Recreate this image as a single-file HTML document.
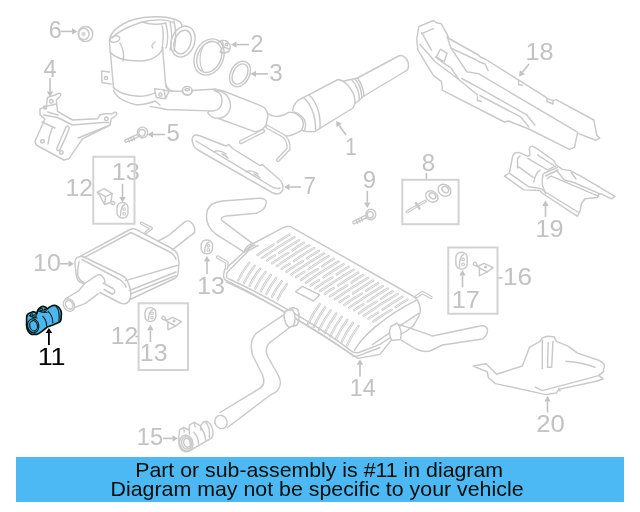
<!DOCTYPE html>
<html><head><meta charset="utf-8"><style>
html,body{margin:0;padding:0;background:#fff;width:640px;height:512px;overflow:hidden}
svg{position:absolute;left:0;top:0;will-change:transform}
text{font-family:"Liberation Sans",sans-serif}
.banner{position:absolute;left:16px;top:457px;width:608px;height:45px;background:#4db9f4}
.l{position:absolute;left:0;width:640px;text-align:center;font-family:"Liberation Sans",sans-serif;color:#0a1a10;white-space:nowrap}
</style></head><body>
<svg width="640" height="512" viewBox="0 0 640 512">
<g fill="none" stroke="#c9c9c9" stroke-width="1.45" stroke-linejoin="round" stroke-linecap="round">
<!-- nut 6 -->
<ellipse cx="85.5" cy="34" rx="7.3" ry="7.6"/>
<ellipse cx="83.8" cy="34" rx="5.2" ry="5.8"/>
<circle cx="83.5" cy="34" r="2.2" fill="#d8d8d8" stroke="none"/>
<!-- bracket 4 -->
<path d="M40,108.8 L40,115 L45,118.8 L35,141.3 L36.3,145 L63.8,160 L68.8,158.8 L82.5,138.8 L110,125 L111.3,118.8 L115.5,116 C118,114 116.5,111.5 114,112.5 L112.5,113.8 L105,113.8 L100,115 L97.5,118.8 L72.5,120 L57.5,111.3 L56.3,100 L59.5,97 C62,95 60.5,92.5 58,93.5 L55,95 L47.5,97.5 L46.3,106.3 Z"/>
<path d="M43.8,115 L57.5,117.5 L72.5,125 L102.5,122.5 L109,122.5"/>
<path d="M47.5,112 L58,115 M46.3,106.3 L56.5,104"/>
<path d="M52.5,127.5 C50,133 48.5,139 48,144"/>
<path d="M66,127 C63,134 60,141 57,148 C56,150.5 58.5,151.5 60,149.5 C63,143 66.5,136 69,129 C70,126.5 67,125 66,127 Z"/>
<path d="M78,138 L108,126"/>
<path d="M42,122 L55,128"/>
<circle cx="51.3" cy="101.3" r="1.8"/>
<circle cx="45" cy="107.5" r="1.6" fill="#d0d0d0"/>
<circle cx="42.5" cy="141.3" r="1.8"/>
<circle cx="61.3" cy="152.5" r="1.8"/>
<circle cx="106.3" cy="118.8" r="1.8"/>
<!-- bolt 5 -->
<path d="M126,141 L138,135.5" stroke-width="3.8"/>
<path d="M126,141 L138,135.5" stroke="#fff" stroke-width="1.2"/>
<path d="M128,138.5 L129.5,142 M130.5,137.3 L132,141 M133,136.2 L134.5,139.8"/>
<ellipse cx="142.5" cy="132.5" rx="5.2" ry="5.4" fill="#fff"/>
<ellipse cx="142" cy="132.8" rx="3.2" ry="3.4"/>
<!-- cat converter (DPF) -->
<path d="M109.4,41 C110,33 116,27 128,21.5 C140,17 160,15 174,19 C180,21 182,24 182,26"/>
<path d="M109.4,41 L113.5,88"/>
<path d="M110,52 C115,58 125,61 140,61 C152,61 160,55 163,48"/>
<path d="M162.5,47 L165.6,84 C167,88 169,90 172,91.2"/>
<path d="M112,38 C118,31 130,26 142,22 C155,19 168,19 174,23"/>
<ellipse cx="114.8" cy="39" rx="5" ry="3" transform="rotate(-15 114.8 39)"/>
<path d="M120,43 C124,50 124,57 123,61"/>
<path d="M142,22 C148,24 158,25 166,23"/>
<path d="M155,42 C152,44 151,47 153,48"/>
<path d="M113.5,87.5 C117,92 128,96 138.7,96.3 C146,96.5 151,94.5 155.1,92.8"/>
<path d="M113.5,90.5 C116,97 125,102 135.2,104.5 C143,105.5 150,103 155.1,101 L160,105"/>
<!-- tabs -->
<path d="M109.4,72 L101.6,71 L102,82.5 L111,84"/>
<circle cx="106" cy="78" r="1.6"/>
<path d="M154.5,88.7 L163.9,89.9 L165.6,98.7 L156.3,97.5 Z" fill="#fff"/>
<path d="M163.9,89.9 L169,91.5 L165.6,98.7"/>
<circle cx="160.4" cy="94.6" r="1.6"/>
<!-- elbow inlet -->
<path d="M162,26 C164,30 163,44 162,48"/>
<path d="M166,24 C168,32 168,42 166,48 M170,22 C172,30 172,42 170,50 M174,21 C176,30 176,42 174,51"/>
<ellipse cx="183" cy="41.5" rx="11.5" ry="15.8" transform="rotate(20 183 41.5)"/>
<ellipse cx="182.6" cy="42" rx="8.2" ry="12.2" transform="rotate(20 182.6 42)"/>
<!-- clamp 2 -->
<ellipse cx="209" cy="57" rx="14.2" ry="18.8" transform="rotate(25 209 57)"/>
<ellipse cx="209.3" cy="57" rx="11.6" ry="16.2" transform="rotate(25 209.3 57)"/>
<path d="M203,71 C199,65 199,53 203.5,46 C206,42.5 209,41 212,41" stroke-width="1.2"/>
<path d="M218.3,42 L222,40.5 C225,40 227,41 228,42.5 L230,44.5 C230.5,47 230,50 229,51.5 L225,53 L220,52"/>
<path d="M222,40.5 L224,47 L229,49 M223.5,46 C222,48 221,50 220.5,52"/>
<circle cx="226.5" cy="44.5" r="1.2"/>
<!-- gasket 3 -->
<ellipse cx="240" cy="74" rx="9.5" ry="13.5" transform="rotate(28 240 74)"/>
<ellipse cx="240" cy="74" rx="7" ry="10.8" transform="rotate(28 240 74)"/>
<!-- pipe from DPF to cat 1 -->
<path d="M165.5,86 C167,89 169,91 172,91.2 L183,91.2 M192.2,90.5 L216,89"/>
<path d="M150,106.6 C157,107 162,109 167,109.5 L209,110.9"/>
<ellipse cx="187.2" cy="90.8" rx="4.9" ry="4.4" fill="#fff"/>
<ellipse cx="187.2" cy="89.6" rx="2.2" ry="1.2"/>
<path d="M182.5,90 C183,93 185,95 187.5,95 C190,95 192,93 192.3,90"/>
<!-- flange + resonator -->
<path d="M214,90.2 C218,89.5 221,90 223.4,91 L261,105.8 C266,108 268,111 267.8,116 L266,125 C264,129 259,131.5 254.7,131.6 L215.6,117.5" fill="#fff"/>
<path d="M214,90.2 C220,90 226,93 229,98.8 C231,104 230.5,109 229,111.3 C227,115 224,117.5 219,118.3 C214,118.6 210,116 207.8,112.8 L209,110.9 C214,111.5 219,110 221,106 C223,101 222,95 218.7,92.5 Z" fill="#fff"/>
<path d="M267,113 C271,116 276,116.5 278.4,116.3 C282,116 285,115 288.8,112.4"/>
<path d="M266.4,126.1 C272,130 280,135 286.1,136 C292,136 297,133 301.4,130.5"/>
<path d="M288.8,112.4 C293,112 298,114 301.4,118.4 C303.5,121 304.5,126 301.4,130.5"/>
<path d="M293.8,111.9 C298,113 302,116 304.5,120 C306,124 306,128 304,131"/>
<path d="M292.7,110.8 C293,107 295,103 298.1,100.4 L338,79.5 C344,80 350,86 353.5,94 C355.5,99 355.5,104 353,108 L314.5,131.6 C310,132 306,131.5 302.5,130.5"/>
<path d="M303.6,97.7 C310,103 316,115 315.6,130.5"/>
<path d="M309,95 C315,100 321,112 320,127.5"/>
<path d="M344,81 L357.5,78 C360.5,82 363.5,90 364,96 L354.5,104"/>
<path d="M352,80 C356,84 359,92 359.5,100 M355,79 C359,83 361.5,91 362,98"/>
<path d="M357.5,78 L398.5,56 C404,54 408.5,60 408.5,65.5 C408.5,68.5 407.5,70.5 405,71.5 L364,96"/>
<!-- hanger rods -->
<path d="M267.5,127 L282,135 C287,138 289,143 288.5,149 L278,160" stroke-width="4.2"/>
<path d="M267.5,127 L282,135 C287,138 289,143 288.5,149 L278,160" stroke="#fff" stroke-width="1.6"/>
<path d="M263,131 L241,142" stroke-width="4.2"/>
<path d="M263,131 L241,142" stroke="#fff" stroke-width="1.6"/>
<!-- part 7 -->
<path d="M192.5,142 C191,137 194,134 199,135.5 L226,146 L229,144.5 L232.5,148.5 L260,165.5 L262.5,164.5 L265,167 L279,179 C283,182 284,188 282,191.5 C280,194 276,194.5 272,192.5 L198,150 C195,148 193,145 192.5,142 Z"/>
<path d="M196,141 L269,185 C273,188 277,189 280,188"/>
<path d="M214,152 C217,150 222,151 226,154 M222,154 C225,155 227,157 228,158"/>
<path d="M246,172 C249,170 254,171 258,174 M254,174 C257,175 259,177 260,178"/>
<!-- shield 18 -->
<path d="M418.8,26.7 L433.5,20.5 L436.4,22.8 L441.3,23.8 L446.2,32.6 L449,38.5 L478.4,55 L480.4,57 L485.2,59 L545,96.6 L547,98.6 L553,100.6 L556.2,99.6 L593.8,120 L596.8,135.2 L599.8,138.2 L595.8,140.2 L577.5,133.1 L574.5,147.3 L569.4,149.4 L528.8,129 L508.4,121 L504.4,122 L442.2,90.2 L442.2,86.3 L441.3,81.4 L433.5,75.6 L417.8,50.2 L416.8,38.5 Z"/>
<path d="M421.7,33.6 L433.5,28.7"/>
<path d="M421.7,32.6 L431.5,50.2"/>
<path d="M419.8,44.3 L435.4,62 L458.9,79.5 L477.4,95"/>
<path d="M435.4,57 L443.2,62.9 L451,67.8 L458.9,79.5"/>
<path d="M447.1,36.5 L451,48.2 L466.7,71.7 L478.4,73.6 L577.5,132.1"/>
<path d="M451,48.2 L476.4,60 L479.4,62 L485.2,64 L488.2,70.7"/>
<path d="M461.8,78.5 L480,88.4 L526.7,114.8 L534.8,125"/>
<path d="M480,95.5 L520.6,116.9 L528.8,127"/>
<path d="M436.4,57 L440.3,49.2 L447.1,53.1 L444.2,61.9 Z"/>
<path d="M477.4,97 L477.4,100.5 L481.5,101.5 M518.6,80.3 L518.6,84.5 L522.7,85.4"/>
<path d="M547,98.6 L547,101.5 L553,104 L553,100.6"/>
<!-- shield 19 -->
<path d="M504.4,176.1 L509.4,173 L512.5,156.8 C513,154.5 514,153.5 515,153 L518.8,152.4 L527.5,156.1 L530,155.5 L529.4,148.6 C530,147 531,146.2 531.9,146.1 L535,147.4 L553.8,160.5 L556.3,165 L562.5,169.4 L570,170.6 L581.3,176.3 L615,196.3 L611.3,198.8 L601.3,193.8 L598.8,194.4 L597.5,197.5 L585,198.8 L581.3,203.8 L580,211.3 L577.5,216.3 L541.9,193 L540,190.5 L523.8,189.9 Z"/>
<path d="M510,173.6 L528.8,186.8 L541.3,188.6 L543.8,191 L578.8,212.5"/>
<path d="M517.5,168 L517.5,159.3 C518,157.5 519,156.5 520,156.1"/>
<path d="M517.5,166.1 L533.1,177.4"/>
<path d="M528.1,158.6 L547.5,169.9 L555.6,166.1"/>
<path d="M537.5,154.9 L553.8,165.5"/>
<path d="M540,169.9 C537,172 535,176 533.8,181.8"/>
<path d="M543.8,173.5 L557.5,167.4 M545.6,176 L558,170"/>
<path d="M543.1,174.3 C542,178 542,182 542.5,185.5 L545.6,193.8"/>
<path d="M547.5,178.6 C549,177 550,176.3 551.3,176.1 L598.8,196.3"/>
<path d="M556.3,170 L564.4,180 L573.8,182.5 L600,193.8"/>
<path d="M571.3,172.5 L576,179"/>
<!-- bolt 9 -->
<path d="M354,222.5 L366,216.5" stroke-width="3.8"/>
<path d="M354,222.5 L366,216.5" stroke="#fff" stroke-width="1.2"/>
<path d="M356,220 L357.5,223.5 M358.5,218.8 L360,222.3 M361,217.6 L362.5,221"/>
<ellipse cx="370.8" cy="214.5" rx="5" ry="5.2" fill="#fff"/>
<ellipse cx="370.2" cy="214.8" rx="3" ry="3.2"/>
<!-- box 8 contents -->
<path d="M406.8,212.1 L425.4,200.9" stroke-width="2.9"/>
<path d="M406.8,212.1 L425.4,200.9" stroke="#fff" stroke-width="0.8"/>
<path d="M416,203 L419.5,208.5" stroke-width="2.6"/>
<ellipse cx="431.8" cy="196.5" rx="6.6" ry="5.2" transform="rotate(35 431.8 196.5)" fill="#fff"/>
<ellipse cx="432.6" cy="195.8" rx="3.6" ry="2.6" transform="rotate(35 432.6 195.8)"/>
<ellipse cx="444.5" cy="190.2" rx="6.8" ry="5.6" transform="rotate(35 444.5 190.2)" fill="#fff"/>
<ellipse cx="445.3" cy="189.5" rx="3.6" ry="2.8" transform="rotate(35 445.3 189.5)"/>
<!-- box 12 upper contents -->
<rect x="117" y="202.5" width="11.0" height="15.5" rx="5.2" ry="5.2"/><path d="M120.5,216.0 C120.5,209.5 121.5,206.0 124.8,204.5"/><circle cx="124.1" cy="209.0" r="1.3" stroke-width="1.1"/><circle cx="124.1" cy="213.7" r="1.3" stroke-width="1.1"/>
<path d="M97.3,192.2 L104.2,188.6 L112.1,193.7 L105.6,196.6 Z"/>
<path d="M97.3,192.2 L99.5,195.1 L104.6,204.5 L111,202.3 L112.1,193.7 M105.6,196.6 L104.6,204.5"/>
<path d="M111,200.9 L113.9,202 C115.3,202.8 115,204.5 113.2,204.6 L111,203.5"/>
<!-- box 12 lower contents -->
<rect x="145" y="307.6" width="10.8" height="13.9" rx="5.2" ry="5.2"/><path d="M148.5,319.5 C148.5,314.6 149.5,311.1 152.8,309.6"/><circle cx="152.0" cy="313.4" r="1.3" stroke-width="1.1"/><circle cx="152.0" cy="317.6" r="1.3" stroke-width="1.1"/><path d="M162.5,319.3 C160.8,317.5 162.5,315.5 164.5,316.7 L166.3,320.5 Z"/><path d="M166.3,320.5 L172.6,317.3 L181.6,321.6 L175.7,325.9 L167.9,329.8 L167.9,322.0 Z"/><path d="M167.9,322.0 L175.7,325.9"/><circle cx="174.0" cy="320.9" r="0.8"/>
<!-- box 16 contents -->
<rect x="455.9" y="252.3" width="11.3" height="16.8" rx="5.2" ry="5.2"/><path d="M459.4,267.1 C459.4,259.3 460.4,255.8 463.7,254.3"/><circle cx="463.1" cy="259.4" r="1.3" stroke-width="1.1"/><circle cx="463.1" cy="264.4" r="1.3" stroke-width="1.1"/><path d="M474.0,265.3 C472.3,263.5 474.0,261.5 476.0,262.7 L477.8,266.5 Z"/><path d="M477.8,266.5 L484.1,263.3 L493.1,267.6 L487.2,271.9 L479.4,275.8 L479.4,268.0 Z"/><path d="M479.4,268.0 L487.2,271.9"/><circle cx="485.5" cy="266.9" r="0.8"/>
<!-- grommet 13 mid -->
<rect x="201.2" y="240" width="11.3" height="13.8" rx="5.2" ry="5.2"/><path d="M204.7,251.8 C204.7,247.0 205.7,243.5 209.0,242.0"/><circle cx="208.4" cy="245.8" r="1.3" stroke-width="1.1"/><circle cx="208.4" cy="249.9" r="1.3" stroke-width="1.1"/>
<!-- muffler 10 -->
<path d="M79.7,256.6 C76,257 74.5,260 75,264 L76.4,276 C77,279 79,282 82,283 L119,302.5 C123,304.5 127,304 129,301 C131,298 131,292 130,288 L128,282.5 C127,279 124,276 120,274.5 L85,257.5 C83,256.5 81,256.3 79.7,256.6 Z"/>
<path d="M79,261.4 C78,266 77.5,271 77.8,275.4 C79,279 81,281 84.1,282.4"/>
<path d="M82,259.5 L119.6,279.5 C123,281.5 125,284 126,287"/>
<path d="M79.7,256.6 L130,229.5 C132,228.5 134,228.5 136,229.3 L170,247.5 C174,249.5 177,252 178,256 L179,263 L178,274 C177,277 175,278.5 173.5,279 L130,299.5"/>
<path d="M84,257.7 L131,232.5 L168,251 C172,253 175,256 176,259"/>
<path d="M125.6,280.6 L178,265.3"/>
<path d="M129.5,290.5 L176,272"/>
<path d="M130.5,294 L176,275.5"/>
<path d="M65,299 L79,290.6 C81,288 83,285 85.4,283 L96.8,275.4 C99,274.5 101,275 102,276 C104,278 105,280 105,283 L98,293.8 L69.5,309.6 Z" fill="#fff" stroke="none"/>
<path d="M65,299 L79,290.6 C81,288 83,285 85.4,283 L96.8,275.4 C99,274.5 101,275 102,276 C104,278 105,280 105,283"/>
<path d="M69.5,309.6 L85.4,303.3 L98,293.8"/>
<ellipse cx="68.9" cy="305" rx="5.3" ry="6.6" transform="rotate(-30 68.9 305)" fill="#fff"/>
<ellipse cx="69.2" cy="304.8" rx="3.4" ry="4.6" transform="rotate(-30 69.2 304.8)"/>
<path d="M103,283 L113,288.5 C115.5,290 115.5,293.5 112,294 L104,289.5"/>
<path d="M158.3,241 C162,239 166,237 169.3,234.8 L185.1,221.6 C188,220 191,221 193,224.7 C195,228 195,231 194.4,232.6 L172,250.1"/>
<path d="M141.5,223.3 L151.3,228.3 L146,232.5" stroke-width="3.4"/>
<path d="M141.5,223.3 L151.3,228.3 L146,232.5" stroke="#fff" stroke-width="1.0"/>
<!-- clamp 11 (highlighted) -->
<g stroke="#0a140a" stroke-width="1.7" fill="#4ab8f0">
<path d="M27.4,314.5 C28.5,313 30,312.5 32.9,311.7 C34.5,311.8 36,312.5 36.8,314 C37,312 38.5,308.5 40.3,307.4 C41.5,306.5 42.5,306.2 43.4,306.3 C45,306.5 46.5,307.5 47.3,309 C48,308 50,306.5 52.8,305.5 C54.5,305.2 55.8,305.4 56.7,305.9 C58.5,306.8 59.5,308 59.8,308.6 C61,310.5 61.4,312 61.4,313.3 L61,319.5 C60.8,320.8 60,321.8 59,322.3 L52.8,325 L47.3,327 L41.9,331.3 C40,332.8 38,334 36.4,334.4 L31.7,334.4 C30,333.8 29,332.5 28.2,331.3 C27,329 26.6,327.5 26.6,325.8 L26.6,318.8 C26.6,317 26.9,315.5 27.4,314.5 Z"/>
</g>
<g stroke="#0a140a" stroke-width="1.1" fill="none">
<ellipse cx="33.2" cy="325.8" rx="5.6" ry="7" transform="rotate(-12 33.2 325.8)"/>
<ellipse cx="33.6" cy="325.8" rx="3.8" ry="5.2" transform="rotate(-12 33.6 325.8)"/>
<path d="M42.7,316.4 C45,318.5 46.6,322 46.6,325.8"/>
<path d="M48.1,311.3 C51,314 52.8,318 52.8,322.7"/>
<path d="M56.7,307 C58.8,310 59.5,315.5 59,321"/>
<path d="M29.4,315.6 C32,317.5 35,318 37.2,318 M38,311 C41,312 44,312.6 47,312.5"/>
<circle cx="31.7" cy="315" r="1.3"/><circle cx="35" cy="316" r="1.2"/>
<circle cx="41.1" cy="309.6" r="1.3"/><circle cx="45" cy="310.3" r="1.2"/>
</g>
<path d="M289.5,234.5 Q283.4,238.0 277.7,242.0" stroke-width="2.3"/><path d="M289.5,234.5 Q283.4,238.0 277.7,242.0" stroke="#fff" stroke-width="0.7"/>
<path d="M273.5,244.7 Q265.2,249.4 257.5,255.0" stroke-width="2.3"/><path d="M273.5,244.7 Q265.2,249.4 257.5,255.0" stroke="#fff" stroke-width="0.7"/>
<path d="M294.4,237.2 Q277.9,246.8 262.3,257.8" stroke-width="2.3"/><path d="M294.4,237.2 Q277.9,246.8 262.3,257.8" stroke="#fff" stroke-width="0.7"/>
<path d="M299.3,239.9 Q289.0,246.0 279.1,252.9" stroke-width="2.3"/><path d="M299.3,239.9 Q289.0,246.0 279.1,252.9" stroke="#fff" stroke-width="0.7"/>
<path d="M274.9,255.6 Q270.8,257.7 267.1,260.6" stroke-width="2.3"/><path d="M274.9,255.6 Q270.8,257.7 267.1,260.6" stroke="#fff" stroke-width="0.7"/>
<path d="M304.2,242.6 Q298.2,246.1 292.5,250.2" stroke-width="2.3"/><path d="M304.2,242.6 Q298.2,246.1 292.5,250.2" stroke="#fff" stroke-width="0.7"/>
<path d="M288.3,252.9 Q279.8,257.6 272.0,263.4" stroke-width="2.3"/><path d="M288.3,252.9 Q279.8,257.6 272.0,263.4" stroke="#fff" stroke-width="0.7"/>
<path d="M309.2,245.3 Q292.5,255.0 276.8,266.1" stroke-width="2.3"/><path d="M309.2,245.3 Q292.5,255.0 276.8,266.1" stroke="#fff" stroke-width="0.7"/>
<path d="M314.1,248.0 Q303.8,254.2 293.9,261.0" stroke-width="2.3"/><path d="M314.1,248.0 Q303.8,254.2 293.9,261.0" stroke="#fff" stroke-width="0.7"/>
<path d="M289.7,263.7 Q285.4,266.0 281.6,268.9" stroke-width="2.3"/><path d="M289.7,263.7 Q285.4,266.0 281.6,268.9" stroke="#fff" stroke-width="0.7"/>
<path d="M319.0,250.7 Q312.9,254.3 307.2,258.3" stroke-width="2.3"/><path d="M319.0,250.7 Q312.9,254.3 307.2,258.3" stroke="#fff" stroke-width="0.7"/>
<path d="M303.0,261.0 Q294.4,265.8 286.4,271.7" stroke-width="2.3"/><path d="M303.0,261.0 Q294.4,265.8 286.4,271.7" stroke="#fff" stroke-width="0.7"/>
<path d="M323.9,253.4 Q307.1,263.3 291.3,274.4" stroke-width="2.3"/><path d="M323.9,253.4 Q307.1,263.3 291.3,274.4" stroke="#fff" stroke-width="0.7"/>
<path d="M328.8,256.1 Q318.5,262.3 308.6,269.1" stroke-width="2.3"/><path d="M328.8,256.1 Q318.5,262.3 308.6,269.1" stroke="#fff" stroke-width="0.7"/>
<path d="M304.4,271.8 Q300.0,274.2 296.1,277.2" stroke-width="2.3"/><path d="M304.4,271.8 Q300.0,274.2 296.1,277.2" stroke="#fff" stroke-width="0.7"/>
<path d="M333.7,258.8 Q327.7,262.4 322.0,266.4" stroke-width="2.3"/><path d="M333.7,258.8 Q327.7,262.4 322.0,266.4" stroke="#fff" stroke-width="0.7"/>
<path d="M317.8,269.1 Q309.0,274.0 300.9,280.0" stroke-width="2.3"/><path d="M317.8,269.1 Q309.0,274.0 300.9,280.0" stroke="#fff" stroke-width="0.7"/>
<path d="M338.7,261.6 Q321.8,271.5 305.7,282.7" stroke-width="2.3"/><path d="M338.7,261.6 Q321.8,271.5 305.7,282.7" stroke="#fff" stroke-width="0.7"/>
<path d="M343.6,264.3 Q333.3,270.4 323.4,277.2" stroke-width="2.3"/><path d="M343.6,264.3 Q333.3,270.4 323.4,277.2" stroke="#fff" stroke-width="0.7"/>
<path d="M319.2,279.9 Q314.6,282.4 310.5,285.5" stroke-width="2.3"/><path d="M319.2,279.9 Q314.6,282.4 310.5,285.5" stroke="#fff" stroke-width="0.7"/>
<path d="M348.5,267.0 Q342.4,270.5 336.7,274.5" stroke-width="2.3"/><path d="M348.5,267.0 Q342.4,270.5 336.7,274.5" stroke="#fff" stroke-width="0.7"/>
<path d="M332.5,277.2 Q323.6,282.2 315.4,288.3" stroke-width="2.3"/><path d="M332.5,277.2 Q323.6,282.2 315.4,288.3" stroke="#fff" stroke-width="0.7"/>
<path d="M353.4,269.7 Q336.4,279.7 320.2,291.0" stroke-width="2.3"/><path d="M353.4,269.7 Q336.4,279.7 320.2,291.0" stroke="#fff" stroke-width="0.7"/>
<path d="M358.3,272.4 Q348.0,278.5 338.1,285.4" stroke-width="2.3"/><path d="M358.3,272.4 Q348.0,278.5 338.1,285.4" stroke="#fff" stroke-width="0.7"/>
<path d="M333.9,288.1 Q329.3,290.6 325.0,293.8" stroke-width="2.3"/><path d="M333.9,288.1 Q329.3,290.6 325.0,293.8" stroke="#fff" stroke-width="0.7"/>
<path d="M363.2,275.1 Q357.2,278.6 351.5,282.7" stroke-width="2.3"/><path d="M363.2,275.1 Q357.2,278.6 351.5,282.7" stroke="#fff" stroke-width="0.7"/>
<path d="M347.3,285.4 Q338.2,290.5 329.8,296.6" stroke-width="2.3"/><path d="M347.3,285.4 Q338.2,290.5 329.8,296.6" stroke="#fff" stroke-width="0.7"/>
<path d="M368.2,277.8 Q351.0,287.9 334.7,299.3" stroke-width="2.3"/><path d="M368.2,277.8 Q351.0,287.9 334.7,299.3" stroke="#fff" stroke-width="0.7"/>
<path d="M373.1,280.5 Q362.8,286.7 352.9,293.5" stroke-width="2.3"/><path d="M373.1,280.5 Q362.8,286.7 352.9,293.5" stroke="#fff" stroke-width="0.7"/>
<path d="M348.7,296.2 Q343.9,298.8 339.5,302.1" stroke-width="2.3"/><path d="M348.7,296.2 Q343.9,298.8 339.5,302.1" stroke="#fff" stroke-width="0.7"/>
<path d="M378.0,283.2 Q371.9,286.8 366.2,290.8" stroke-width="2.3"/><path d="M378.0,283.2 Q371.9,286.8 366.2,290.8" stroke="#fff" stroke-width="0.7"/>
<path d="M362.0,293.5 Q352.8,298.7 344.3,304.9" stroke-width="2.3"/><path d="M362.0,293.5 Q352.8,298.7 344.3,304.9" stroke="#fff" stroke-width="0.7"/>
<path d="M382.9,285.9 Q365.6,296.1 349.1,307.6" stroke-width="2.3"/><path d="M382.9,285.9 Q365.6,296.1 349.1,307.6" stroke="#fff" stroke-width="0.7"/>
<path d="M387.8,288.6 Q377.5,294.8 367.6,301.6" stroke-width="2.3"/><path d="M387.8,288.6 Q377.5,294.8 367.6,301.6" stroke="#fff" stroke-width="0.7"/>
<path d="M363.4,304.3 Q358.5,307.0 354.0,310.4" stroke-width="2.3"/><path d="M363.4,304.3 Q358.5,307.0 354.0,310.4" stroke="#fff" stroke-width="0.7"/>
<path d="M392.7,291.3 Q386.7,294.9 381.0,298.9" stroke-width="2.3"/><path d="M392.7,291.3 Q386.7,294.9 381.0,298.9" stroke="#fff" stroke-width="0.7"/>
<path d="M376.8,301.6 Q367.4,306.9 358.8,313.2" stroke-width="2.3"/><path d="M376.8,301.6 Q367.4,306.9 358.8,313.2" stroke="#fff" stroke-width="0.7"/>
<path d="M397.7,294.1 Q380.2,304.3 363.6,315.9" stroke-width="2.3"/><path d="M397.7,294.1 Q380.2,304.3 363.6,315.9" stroke="#fff" stroke-width="0.7"/>
<path d="M402.6,296.8 Q392.3,302.9 382.4,309.7" stroke-width="2.3"/><path d="M402.6,296.8 Q392.3,302.9 382.4,309.7" stroke="#fff" stroke-width="0.7"/>
<path d="M378.2,312.4 Q373.1,315.2 368.4,318.7" stroke-width="2.3"/><path d="M378.2,312.4 Q373.1,315.2 368.4,318.7" stroke="#fff" stroke-width="0.7"/>
<path d="M407.5,299.5 Q401.4,303.0 395.7,307.0" stroke-width="2.3"/><path d="M407.5,299.5 Q401.4,303.0 395.7,307.0" stroke="#fff" stroke-width="0.7"/>
<path d="M391.5,309.7 Q382.1,315.1 373.3,321.5" stroke-width="2.3"/><path d="M391.5,309.7 Q382.1,315.1 373.3,321.5" stroke="#fff" stroke-width="0.7"/>
<path d="M249.3,262.6 Q242.8,270.8 238.3,280.2" stroke-width="2.3"/><path d="M249.3,262.6 Q242.8,270.8 238.3,280.2" stroke="#fff" stroke-width="0.7"/>
<path d="M254.7,265.7 Q248.3,273.7 243.9,283.0" stroke-width="2.3"/><path d="M254.7,265.7 Q248.3,273.7 243.9,283.0" stroke="#fff" stroke-width="0.7"/>
<path d="M260.1,268.8 Q253.8,276.6 249.6,285.7" stroke-width="2.3"/><path d="M260.1,268.8 Q253.8,276.6 249.6,285.7" stroke="#fff" stroke-width="0.7"/>
<path d="M265.5,271.9 Q259.3,279.6 255.2,288.5" stroke-width="2.3"/><path d="M265.5,271.9 Q259.3,279.6 255.2,288.5" stroke="#fff" stroke-width="0.7"/>
<path d="M270.9,275.0 Q264.8,282.5 260.8,291.2" stroke-width="2.3"/><path d="M270.9,275.0 Q264.8,282.5 260.8,291.2" stroke="#fff" stroke-width="0.7"/>
<path d="M276.3,278.1 Q270.3,285.4 266.4,294.0" stroke-width="2.3"/><path d="M276.3,278.1 Q270.3,285.4 266.4,294.0" stroke="#fff" stroke-width="0.7"/>
<path d="M281.7,281.2 Q275.8,288.3 272.0,296.8" stroke-width="2.3"/><path d="M281.7,281.2 Q275.8,288.3 272.0,296.8" stroke="#fff" stroke-width="0.7"/>
<path d="M287.1,284.3 Q281.3,291.3 277.6,299.5" stroke-width="2.3"/><path d="M287.1,284.3 Q281.3,291.3 277.6,299.5" stroke="#fff" stroke-width="0.7"/>
<path d="M319.7,304.2 Q312.8,313.4 308.0,323.9" stroke-width="2.3"/><path d="M319.7,304.2 Q312.8,313.4 308.0,323.9" stroke="#fff" stroke-width="0.7"/>
<path d="M325.2,307.3 Q318.4,316.5 313.6,327.0" stroke-width="2.3"/><path d="M325.2,307.3 Q318.4,316.5 313.6,327.0" stroke="#fff" stroke-width="0.7"/>
<path d="M330.8,310.4 Q323.9,319.6 319.1,330.1" stroke-width="2.3"/><path d="M330.8,310.4 Q323.9,319.6 319.1,330.1" stroke="#fff" stroke-width="0.7"/>
<path d="M336.3,313.5 Q329.5,322.7 324.7,333.1" stroke-width="2.3"/><path d="M336.3,313.5 Q329.5,322.7 324.7,333.1" stroke="#fff" stroke-width="0.7"/>
<path d="M341.9,316.6 Q335.1,325.8 330.3,336.2" stroke-width="2.3"/><path d="M341.9,316.6 Q335.1,325.8 330.3,336.2" stroke="#fff" stroke-width="0.7"/>
<path d="M347.4,319.7 Q340.6,328.9 335.8,339.3" stroke-width="2.3"/><path d="M347.4,319.7 Q340.6,328.9 335.8,339.3" stroke="#fff" stroke-width="0.7"/>
<path d="M353.0,322.8 Q346.2,332.0 341.4,342.4" stroke-width="2.3"/><path d="M353.0,322.8 Q346.2,332.0 341.4,342.4" stroke="#fff" stroke-width="0.7"/>
<path d="M358.6,325.9 Q351.7,335.1 347.0,345.4" stroke-width="2.3"/><path d="M358.6,325.9 Q351.7,335.1 347.0,345.4" stroke="#fff" stroke-width="0.7"/>
<path d="M358,358.4 C320,333 260,296 225.8,280.4 C223.5,279 223.5,277 223.5,275 L224.7,269.3 L229.3,265.2 L253.4,243.5 L282.3,228.2 C285,226.5 288,226 290.5,226.6 L412,295.5 C416,297.5 419,301 420.2,307.8 C420.5,311 420,314 418.9,316 C417,320 415,323 413.4,325.6 L406.6,331 L391,340.5 L380,354.4 Z"/>
<path d="M228,278.5 C262,294 320,326 352.5,351.9 C355,353 357,353 358.8,352.5 L380,344.4 L391,337"/>
<path d="M226.5,282 C262,298 322,332 353.8,356.3 C356,356.5 357.5,356 358.8,355.6 L380,347.5"/>
<path d="M226.8,278 C226.3,275 226.5,273 228,271.5 L248.7,250.5 L258,245.5"/>
<path d="M354.4,350.6 C362,336 385,316 416,300.3"/>
<path d="M372.4,344.7 C385,336 402,324 418.9,313.3"/>
<path d="M295.5,291.7 L302.5,286.3 L319.7,294.8 L313.4,301 Z" stroke-linejoin="round"/><!-- S pipe upstream -->
<path d="M244.2,252.2 L215.5,233.8 C208,228 205,220 207.3,210.5 C209,205 215,202 222.4,201 L259.3,198.2 C264,198 267,200 266.1,203.5 C265.8,207 262,211 256.5,213.3 L226.5,216 C222,216.5 220,218.5 222.4,220.8 L252.4,243.3"/>
<path d="M244.2,252.2 C245,248 248,245 252.4,243.3 M246,253.5 C247.5,249 250.5,246.5 255,245"/>
<!-- hanger near 13 mid -->
<path d="M217.5,257 L227,262.5 L226.5,268" stroke-width="3.4"/>
<path d="M217.5,257 L227,262.5 L226.5,268" stroke="#fff" stroke-width="1.1"/>
<!-- lower outlet pipe -->
<path d="M287.4,312.3 L258,332 C251,337 250,345 252.5,355 L262.5,375 C265,381 264,386 258.75,389 L220,412.5"/>
<path d="M291.5,326 L270,342.5 C266,346 265.5,351 267.5,356.25 L278.75,376.25 C281,381 281,387 277,391 C275,393 272,394 269,396 L227.5,427.5"/>
<ellipse cx="221" cy="422" rx="6" ry="6.8" transform="rotate(-30 221 422)" fill="#fff"/>
<path d="M285.5,311 C283,315 284,323 289,327.5 L293,326 C296,322 296,315 292.5,309.5 Z" fill="#fff"/>
<path d="M289.5,309 C292,307 296,307.5 298,310 C300,314 299.5,321 297,325 L293,326.5"/>
<!-- tailpipe right -->
<path d="M398,324.5 C405,326 415,330 432.5,336 L480,326 C484,325 488,327 487.5,331 C487.5,334 485,337 482.5,339 L442.5,345 L430,351 C425,352 420,351 416,349 L401.5,340.3"/>
<path d="M391,326.5 C389,330 389,337 392,340.5 L400.5,339.5 C402,334 401,327 397,323 Z" fill="#fff"/>
<!-- rear hanger -->
<path d="M416.5,296.5 L422.5,292.5 L431,297.5" stroke-width="3.4"/>
<path d="M416.5,296.5 L422.5,292.5 L431,297.5" stroke="#fff" stroke-width="1.1"/>
<!-- clamp 15 -->
<path d="M179.4,432 L179.4,429.8 L183.7,427.5 L189.2,430.2 L189.6,424.8 L194.3,422.4 L200.5,425.9 L202.9,422.4 C205,421 207,421 208,422 C211,424 213,429 213,433.8 C213,436 212,437.5 211,438.4 L189.2,451 C186,452.5 182,451.5 180.5,448.5 C178.5,445 178.5,438 179.4,432 Z"/>
<ellipse cx="186.2" cy="443.1" rx="6.6" ry="8" transform="rotate(-15 186.2 443.1)"/>
<ellipse cx="186.5" cy="443" rx="4.8" ry="6.2" transform="rotate(-15 186.5 443)"/>
<ellipse cx="187" cy="442.8" rx="3.2" ry="4.5" transform="rotate(-15 187 442.8)"/>
<path d="M183.7,427.5 L184.3,432 M189.2,430.2 L189.5,434 M194.3,422.4 L195,427 M200.5,425.9 L200.8,430"/>
<path d="M193.9,432.2 C197,436 198.6,440 198.6,443.9"/>
<path d="M200.9,427.5 C204,432 205.6,436 205.6,440"/>
<path d="M205.6,421.8 C208.5,425 210,431 209.3,437.5"/>
<!-- shield 20 -->
<path d="M473.2,366 L486.1,363.7 L496.6,374.2 L522.4,366 L529.5,347.3 L540,341.4 L542.3,337.9 L547,336.3 L554,336.7 L556.4,341.4 L568.1,346.1 L577.5,353.1 L598.6,360.2 C602,362 604.5,364 604.4,366 L603.3,371.9 L598.6,375.4 L603.3,378.9 L596.2,381.3 L558.8,389.4 L556.4,393 L545.9,394.6 L495.5,383.6 L488.4,377.7 L487.3,371.9 Z"/>
<path d="M535.3,387.1 L542.3,390.6 L599.8,375.4"/>
<path d="M558.8,388.3 L560,391"/>
<path d="M542.3,340.2 L542.3,368.4 M548.2,342.6 L547.5,367.2 L551.7,367.2 L552.9,341.4"/>
<path d="M565.8,361.3 C575,362 586,364 595,367.2"/>

</g>
<text transform="translate(49.80,37.57) scale(1.004,1)" x="-1.17" y="0" font-size="23.38" fill="#c2c2c2">6</text>
<text transform="translate(251.70,51.70) scale(0.990,1)" x="-1.19" y="0" font-size="23.71" fill="#c2c2c2">2</text>
<text transform="translate(270.20,80.77) scale(1.037,1)" x="-0.94" y="0" font-size="23.38" fill="#c2c2c2">3</text>
<text transform="translate(44.00,76.50) scale(0.978,1)" x="-0.48" y="0" font-size="24.06" fill="#c2c2c2">4</text>
<text transform="translate(167.50,140.76) scale(1.009,1)" x="-0.95" y="0" font-size="23.71" fill="#c2c2c2">5</text>
<text transform="translate(347.00,154.60) scale(0.860,1)" x="-1.92" y="0" font-size="24.06" fill="#c2c2c2">1</text>
<text transform="translate(304.60,194.30) scale(0.931,1)" x="-1.20" y="0" font-size="24.06" fill="#c2c2c2">7</text>
<text transform="translate(527.50,60.27) scale(1.080,1)" x="-1.87" y="0" font-size="23.38" fill="#c2c2c2">18</text>
<text transform="translate(422.70,171.27) scale(1.028,1)" x="-0.94" y="0" font-size="23.38" fill="#c2c2c2">8</text>
<text transform="translate(364.00,187.77) scale(1.023,1)" x="-1.17" y="0" font-size="23.38" fill="#c2c2c2">9</text>
<text transform="translate(537.50,236.77) scale(1.080,1)" x="-1.87" y="0" font-size="23.38" fill="#c2c2c2">19</text>
<text transform="translate(67.50,195.60) scale(1.039,1)" x="-1.90" y="0" font-size="23.71" fill="#c2c2c2">12</text>
<text transform="translate(113.75,179.77) scale(1.080,1)" x="-1.87" y="0" font-size="23.38" fill="#c2c2c2">13</text>
<text transform="translate(35.00,270.77) scale(1.069,1)" x="-1.87" y="0" font-size="23.38" fill="#c2c2c2">10</text>
<text transform="translate(199.00,293.77) scale(1.080,1)" x="-1.87" y="0" font-size="23.38" fill="#c2c2c2">13</text>
<text transform="translate(112.70,343.70) scale(1.039,1)" x="-1.90" y="0" font-size="23.71" fill="#c2c2c2">12</text>
<text transform="translate(141.80,361.07) scale(1.067,1)" x="-1.87" y="0" font-size="23.38" fill="#c2c2c2">13</text>
<text transform="translate(505.00,284.77) scale(1.123,1)" x="-1.87" y="0" font-size="23.38" fill="#c2c2c2">16</text>
<text transform="translate(453.75,307.50) scale(1.050,1)" x="-1.92" y="0" font-size="24.06" fill="#c2c2c2">17</text>
<text transform="translate(351.70,396.00) scale(0.967,1)" x="-1.92" y="0" font-size="24.06" fill="#c2c2c2">14</text>
<text transform="translate(138.75,444.76) scale(0.999,1)" x="-1.90" y="0" font-size="23.71" fill="#c2c2c2">15</text>
<text transform="translate(537.50,432.27) scale(1.100,1)" x="-1.17" y="0" font-size="23.38" fill="#c2c2c2">20</text>
<text transform="translate(39.80,365.00) scale(1.119,1)" x="-1.92" y="0" font-size="24.06" fill="#000000">11</text>
<line x1="61" y1="31.4" x2="72.00" y2="31.40" stroke="#c2c2c2" stroke-width="1.6"/><polygon points="77.5,31.4 72.00,34.60 72.00,28.20" fill="#c2c2c2"/>
<line x1="249" y1="44.6" x2="236.50" y2="44.60" stroke="#c2c2c2" stroke-width="1.6"/><polygon points="231,44.6 236.50,41.40 236.50,47.80" fill="#c2c2c2"/>
<line x1="268" y1="73.9" x2="256.00" y2="73.90" stroke="#c2c2c2" stroke-width="1.6"/><polygon points="250.5,73.9 256.00,70.70 256.00,77.10" fill="#c2c2c2"/>
<line x1="50" y1="78" x2="50.00" y2="91.50" stroke="#c2c2c2" stroke-width="1.6"/><polygon points="50,97 46.80,91.50 53.20,91.50" fill="#c2c2c2"/>
<line x1="165" y1="134.5" x2="153.00" y2="134.50" stroke="#c2c2c2" stroke-width="1.6"/><polygon points="147.5,134.5 153.00,131.30 153.00,137.70" fill="#c2c2c2"/>
<line x1="346" y1="135" x2="339.20" y2="125.48" stroke="#c2c2c2" stroke-width="1.6"/><polygon points="336,121 341.80,123.62 336.59,127.34" fill="#c2c2c2"/>
<line x1="301" y1="187" x2="289.50" y2="187.00" stroke="#c2c2c2" stroke-width="1.6"/><polygon points="284,187 289.50,183.80 289.50,190.20" fill="#c2c2c2"/>
<line x1="529" y1="64" x2="522.44" y2="72.21" stroke="#c2c2c2" stroke-width="1.6"/><polygon points="519,76.5 519.94,70.21 524.93,74.20" fill="#c2c2c2"/>
<line x1="426.4" y1="173" x2="426.4" y2="180" stroke="#c2c2c2" stroke-width="1.6"/>
<line x1="367.3" y1="190.8" x2="367.30" y2="202.50" stroke="#c2c2c2" stroke-width="1.6"/><polygon points="367.3,208 364.10,202.50 370.50,202.50" fill="#c2c2c2"/>
<line x1="545.5" y1="217" x2="545.50" y2="206.00" stroke="#c2c2c2" stroke-width="1.6"/><polygon points="545.5,200.5 548.70,206.00 542.30,206.00" fill="#c2c2c2"/>
<line x1="92" y1="188.5" x2="93.5" y2="188.5" stroke="#c2c2c2" stroke-width="1.6"/>
<line x1="122.5" y1="183.75" x2="122.50" y2="197.00" stroke="#c2c2c2" stroke-width="1.6"/><polygon points="122.5,202.5 119.30,197.00 125.70,197.00" fill="#c2c2c2"/>
<line x1="60" y1="263.75" x2="68.50" y2="263.75" stroke="#c2c2c2" stroke-width="1.6"/><polygon points="74,263.75 68.50,266.95 68.50,260.55" fill="#c2c2c2"/>
<line x1="207" y1="274" x2="207.00" y2="261.50" stroke="#c2c2c2" stroke-width="1.6"/><polygon points="207,256 210.20,261.50 203.80,261.50" fill="#c2c2c2"/>
<line x1="135.4" y1="336.6" x2="138.6" y2="336.6" stroke="#c2c2c2" stroke-width="1.6"/>
<line x1="150.4" y1="342" x2="150.40" y2="330.30" stroke="#c2c2c2" stroke-width="1.6"/><polygon points="150.4,324.8 153.60,330.30 147.20,330.30" fill="#c2c2c2"/>
<line x1="497.5" y1="277.9" x2="502.5" y2="277.9" stroke="#c2c2c2" stroke-width="1.6"/>
<line x1="462.5" y1="287.5" x2="462.50" y2="275.50" stroke="#c2c2c2" stroke-width="1.6"/><polygon points="462.5,270 465.70,275.50 459.30,275.50" fill="#c2c2c2"/>
<line x1="360" y1="376.5" x2="360.00" y2="364.80" stroke="#c2c2c2" stroke-width="1.6"/><polygon points="360,359.3 363.20,364.80 356.80,364.80" fill="#c2c2c2"/>
<line x1="163" y1="438.4" x2="172.50" y2="438.40" stroke="#c2c2c2" stroke-width="1.6"/><polygon points="178,438.4 172.50,441.60 172.50,435.20" fill="#c2c2c2"/>
<line x1="547.5" y1="412.5" x2="547.50" y2="401.50" stroke="#c2c2c2" stroke-width="1.6"/><polygon points="547.5,396 550.70,401.50 544.30,401.50" fill="#c2c2c2"/>
<line x1="48.9" y1="345" x2="48.90" y2="333.00" stroke="#000000" stroke-width="1.8"/><polygon points="48.9,328 52.20,333.00 45.60,333.00" fill="#000000"/>
<rect x="93.25" y="156.75" width="41.25" height="67.00" fill="none" stroke="#d3d3d3" stroke-width="2"/>
<rect x="138.6" y="303.3" width="49.40" height="66.70" fill="none" stroke="#d3d3d3" stroke-width="2"/>
<rect x="402.3" y="179.8" width="56.30" height="44.40" fill="none" stroke="#d3d3d3" stroke-width="2"/>
<rect x="448.25" y="247.5" width="49.25" height="66.25" fill="none" stroke="#d3d3d3" stroke-width="2"/>
</svg>
<div class="banner"></div>
<svg width="640" height="512" viewBox="0 0 640 512">
<text transform="translate(136.90,476.75) scale(1.0978,1)" x="-1.55" y="0" font-size="19.42" fill="#060c06" font-family="Liberation Sans">Part or sub-assembly is #11 in diagram</text>
<text transform="translate(112.25,496.10) scale(1.0997,1)" x="-1.55" y="0" font-size="19.42" fill="#060c06" font-family="Liberation Sans">Diagram may not be specific to your vehicle</text>
</svg>
</body></html>
